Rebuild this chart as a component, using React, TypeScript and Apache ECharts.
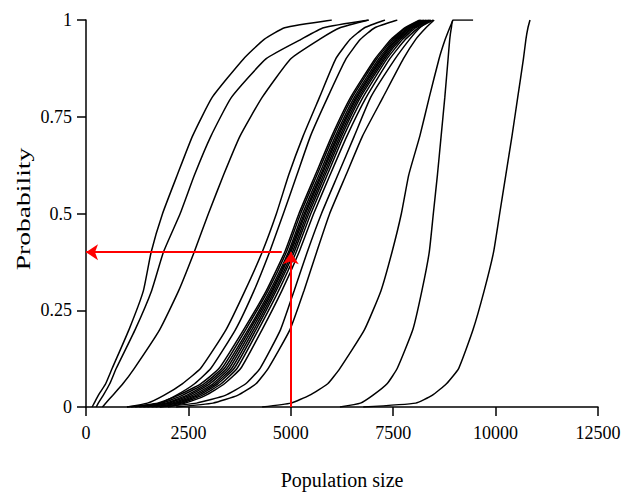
import React, { useEffect, useRef } from "react";
import * as echarts from "echarts";

// Probability levels at which each curve's population size was read
const probLevels = [0, 0.01, 0.03, 0.06, 0.1, 0.2, 0.3, 0.4, 0.5, 0.6, 0.7, 0.8, 0.9, 0.95, 0.98, 1];

// Population size at each probability level, one array per curve
const curveA = [150, 200, 300, 480, 640, 1050, 1400, 1590, 1870, 2230, 2600, 3080, 3850, 4350, 4850, 6000];
const curveB = [250, 300, 420, 580, 740, 1200, 1600, 1890, 2300, 2650, 3050, 3550, 4400, 5250, 5800, 6900];
const curveC = [400, 480, 650, 900, 1180, 1800, 2260, 2640, 2990, 3360, 3760, 4300, 5000, 5700, 6200, 6900];
const curveD1 = [1000, 1500, 1900, 2350, 2800, 3420, 3880, 4300, 4650, 4950, 5300, 5700, 6100, 6450, 6800, 7300];
const curveD2 = [1200, 1800, 2200, 2650, 3050, 3650, 4100, 4480, 4820, 5150, 5480, 5900, 6350, 6700, 7050, 7600];
const curveM1 = [1000, 1750, 2250, 2800, 3250, 3850, 4400, 4850, 5200, 5600, 6000, 6460, 7060, 7450, 7790, 8150];
const curveM2 = [1100, 1850, 2350, 2880, 3320, 3900, 4440, 4890, 5240, 5640, 6040, 6500, 7100, 7490, 7820, 8180];
const curveM3 = [1300, 1950, 2450, 2950, 3380, 3960, 4490, 4940, 5290, 5690, 6090, 6550, 7150, 7530, 7860, 8220];
const curveM4 = [1500, 2020, 2520, 3020, 3440, 4000, 4530, 4970, 5330, 5730, 6130, 6590, 7190, 7570, 7890, 8260];
const curveM5 = [1400, 2100, 2600, 3100, 3500, 4050, 4560, 5000, 5360, 5760, 6160, 6620, 7220, 7600, 7920, 8300];
const curveM6 = [1700, 2180, 2680, 3160, 3560, 4100, 4600, 5040, 5400, 5800, 6200, 6660, 7260, 7640, 7960, 8340];
const curveM7 = [1600, 2250, 2750, 3220, 3620, 4150, 4640, 5080, 5440, 5840, 6240, 6700, 7300, 7680, 8000, 8380];
const curveM8 = [1800, 2330, 2830, 3300, 3690, 4210, 4700, 5130, 5490, 5890, 6290, 6760, 7350, 7730, 8050, 8420];
const curveM9 = [2000, 2420, 2920, 3380, 3780, 4300, 4780, 5200, 5560, 5960, 6370, 6840, 7420, 7800, 8120, 8480];
const curveE1 = [1800, 2700, 3400, 3900, 4250, 4750, 5080, 5400, 5750, 6150, 6550, 6950, 7550, 7900, 8150, 8400];
const curveE2 = [2200, 3100, 3700, 4150, 4450, 4980, 5320, 5630, 5950, 6350, 6750, 7250, 7750, 8050, 8300, 8500];
const curveF = [4300, 5000, 5450, 5900, 6200, 6800, 7200, 7470, 7700, 7880, 8150, 8380, 8620, 8770, 8880, 8960];
const curveG = [6200, 6700, 7000, 7350, 7600, 7980, 8200, 8380, 8480, 8580, 8670, 8760, 8840, 8880, 8920, 8960];
const curveH = [6770, 8050, 8450, 8800, 9100, 9450, 9720, 9950, 10100, 10250, 10400, 10540, 10680, 10740, 10790, 10840];

const curves = [
  curveA, curveB, curveC, curveD1, curveD2,
  curveM1, curveM2, curveM3, curveM4, curveM5, curveM6, curveM7, curveM8, curveM9,
  curveE1, curveE2, curveF, curveG, curveH,
];
// Where the flat part at probability 1 ends (same as last value when none)
const topEnds = [6000, 6900, 6900, 7300, 7600, 8150, 8180, 8220, 8260, 8300, 8340, 8380, 8420, 8480, 8400, 8500, 8960, 9450, 10840];

// Red arrows: reading probability for population size 5000
const readX = 5000;
const readY = 0.4;
const readHorizontalStart = 4780;

const xTicks = { min: 0, max: 12500, interval: 2500 };
const yTicks = { min: 0, max: 1, interval: 0.25 };

const xTitle = "Population size";
const yTitle = "Probability";

export default function App() {
  const ref = useRef<HTMLDivElement>(null);
  useEffect(() => {
    if (!ref.current) return;
    const chart = echarts.init(ref.current, undefined, { renderer: "svg" });
    const font = "Times New Roman, Liberation Serif, DejaVu Serif, serif";
    const lineSeries = curves.map((c, i) => {
      const pts: number[][] = c.map((x, k) => [x, probLevels[k]]);
      if (topEnds[i] > c[c.length - 1]) pts.push([topEnds[i], 1]);
      return {
        type: "line",
        name: "curve" + i,
        data: pts,
        showSymbol: false,
        symbol: "none",
        smooth: 0.15,
        lineStyle: { color: "#000", width: 1.5 },
        silent: true,
        z: 2,
      };
    });
    const textBase = { fontFamily: font, color: "#000", fontWeight: "normal" as const };
    chart.setOption({
      animation: false,
      backgroundColor: "#fff",
      textStyle: { fontFamily: font },
      grid: { left: 86, right: 28, top: 20, bottom: 93 },
      graphic: [
        {
          type: "text",
          x: 24,
          y: 209,
          rotation: Math.PI / 2,
          scaleX: 1.45,
          style: {
            text: yTitle,
            font: "19px Times New Roman, Liberation Serif, serif",
            fill: "#000",
            align: "center",
            verticalAlign: "middle",
          },
        },
      ],
      xAxis: {
        type: "value",
        min: xTicks.min,
        max: xTicks.max,
        interval: xTicks.interval,
        name: xTitle,
        nameLocation: "middle",
        nameGap: 63,
        nameTextStyle: { ...textBase, fontSize: 20 },
        axisLine: { show: true, lineStyle: { color: "#000", width: 1.5 } },
        axisTick: { show: true, length: 9, lineStyle: { color: "#000", width: 1.5 } },
        axisLabel: {
          ...textBase,
          fontSize: 18,
          margin: 17,
          formatter: (v: number) => String(v),
        },
        splitLine: { show: false },
      },
      yAxis: {
        type: "value",
        min: yTicks.min,
        max: yTicks.max,
        interval: yTicks.interval,
        axisLine: { show: true, lineStyle: { color: "#000", width: 1.5 } },
        axisTick: { show: true, length: 9, lineStyle: { color: "#000", width: 1.5 } },
        axisLabel: {
          ...textBase,
          fontSize: 18,
          margin: 14,
          formatter: (v: number) => String(v),
        },
        splitLine: { show: false },
      },
      series: [
        ...lineSeries,
        {
          type: "lines",
          coordinateSystem: "cartesian2d",
          silent: true,
          z: 10,
          symbol: ["none", "arrow"],
          symbolSize: 12,
          lineStyle: { color: "#ff0000", width: 2, opacity: 1, curveness: 0 },
          data: [
            { coords: [[readX, 0], [readX, readY]] },
            { coords: [[readHorizontalStart, readY], [0, readY]] },
          ],
        },
      ],
    });
    return () => chart.dispose();
  }, []);
  return (
    <div
      ref={ref}
      style={{ position: "fixed", left: 0, top: 0, width: 626, height: 500, background: "#fff" }}
    />
  );
}
